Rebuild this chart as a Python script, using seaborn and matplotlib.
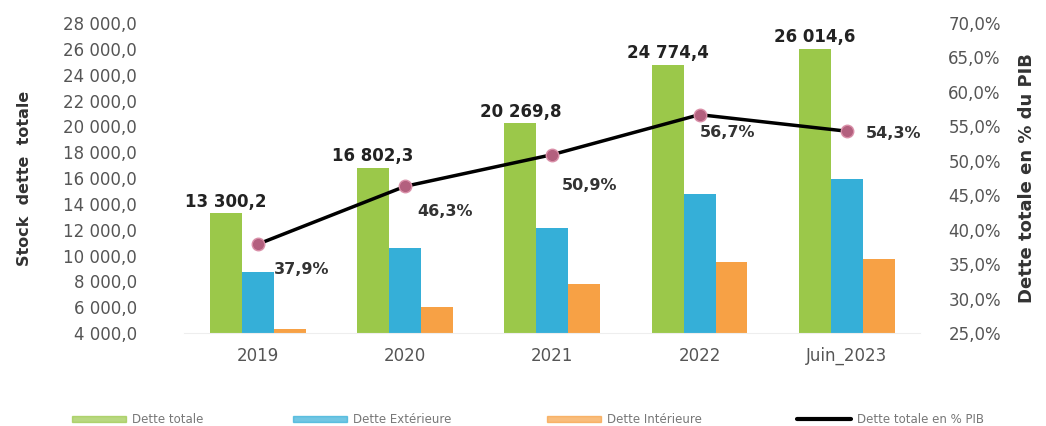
import matplotlib
matplotlib.use("Agg")
import matplotlib.pyplot as plt
import pandas as pd
import seaborn as sns
from matplotlib.lines import Line2D
from matplotlib.patches import Patch

# Data
years = ['2019', '2020', '2021', '2022', 'Juin_2023']
dette_totale = [13300.2, 16802.3, 20269.8, 24774.4, 26014.6]
dette_ext = [8700, 10600, 12100, 14800, 15900]
dette_int = [4300, 6000, 7800, 9500, 9700]
pct_pib = [37.9, 46.3, 50.9, 56.7, 54.3]

series = ['Dette totale', 'Dette Extérieure', 'Dette Intérieure']
colors = ['#9BC84A', '#35AFD8', '#F7A145']

df = pd.DataFrame({
    'annee': years * 3,
    'serie': [s for s in series for _ in years],
    'valeur': dette_totale + dette_ext + dette_int,
})

def fmt_num(v):
    return f'{v:,.1f}'.replace(',', ' ').replace('.', ',')

sns.set_style('white')
plt.rcParams['font.family'] = ['DejaVu Sans']

fig, ax = plt.subplots(figsize=(10.46, 4.26), dpi=100)
fig.subplots_adjust(left=0.176, right=0.88, bottom=0.218, top=0.946)

sns.barplot(data=df, x='annee', y='valeur', hue='serie', palette=colors,
            width=0.65, gap=0, ax=ax, legend=False, saturation=1, linewidth=0)

ax.set_ylim(4000, 28000)
ax.set_yticks(range(4000, 28001, 2000))
ax.set_yticklabels([fmt_num(v) for v in range(4000, 28001, 2000)])
ax.set_xlabel('')
ax.set_ylabel('Stock  dette  totale', fontsize=11.5, fontweight='bold', color='#333333', labelpad=22)
ax.tick_params(axis='y', labelsize=12, colors='#555555', length=0, pad=34)
ax.tick_params(axis='x', labelsize=12, colors='#555555', length=0, pad=10)
for s in ['top', 'right', 'left']:
    ax.spines[s].set_visible(False)
ax.spines['bottom'].set_color('#eeeeee')

# labels above green bars
green = ax.containers[0]
for bar, v in zip(green, dette_totale):
    ax.text(bar.get_x() + bar.get_width() / 2, v + 180, fmt_num(v),
            ha='center', va='bottom', fontsize=12, fontweight='bold', color='#222222')

ax2 = ax.twinx()
sns.lineplot(x=years, y=pct_pib, ax=ax2, color='black', linewidth=2.5,
             marker='o', markersize=9, markerfacecolor='#B3607E',
             markeredgecolor='#D98FA8', markeredgewidth=1, sort=False)
ax2.set_ylim(25, 70)
ax2.set_yticks(range(25, 71, 5))
ax2.set_yticklabels([f'{v},0%' for v in range(25, 71, 5)])
ax2.set_ylabel('Dette totale en % du PIB', fontsize=13, fontweight='bold', color='#333333', labelpad=12)
ax2.tick_params(axis='y', labelsize=12, colors='#555555', length=0, pad=20)
for s in ax2.spines.values():
    s.set_visible(False)

offsets = [(0.3, -3.6), (0.27, -3.6), (0.25, -4.5), (0.19, -2.6), (0.32, -0.3)]
for i, (p, (dx, dy)) in enumerate(zip(pct_pib, offsets)):
    ax2.text(i + dx, p + dy, f'{p:.1f}%'.replace('.', ','), ha='center', va='center',
             fontsize=11.5, fontweight='bold', color='#333333')

ax.set_xlim(-0.5, 4.5)

# legend entries spread along the bottom
handles = [Patch(color=c, alpha=0.7) for c in colors] + [Line2D([0], [0], color='black', linewidth=3)]
labels = series + ['Dette totale en % PIB']
leg_x = [0.069, 0.280, 0.523, 0.762]
for h, l, x in zip(handles, labels, leg_x):
    fig.legend([h], [l], loc='lower left', frameon=False, bbox_to_anchor=(x, 0.0),
               fontsize=8.5, handlelength=4.6, handleheight=0.35, handletextpad=0.5,
               borderpad=0, borderaxespad=0, labelcolor='#777777')

fig.savefig('out.png', dpi=100)
